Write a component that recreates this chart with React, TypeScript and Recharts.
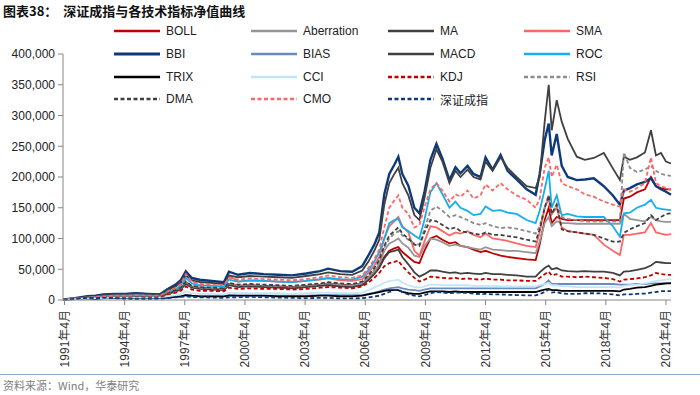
import { LineChart, Line, XAxis, YAxis } from 'recharts';

// decimal years (1991年4月 = 1991.25)
const times = [
  1991.2, 1991.6, 1992.0, 1992.4, 1992.8, 1993.2, 1993.7, 1994.3, 1994.8, 1995.4,
  1996.0, 1996.4, 1996.8, 1997.05, 1997.3, 1997.6, 1998.0, 1998.6, 1999.2, 1999.45,
  1999.9, 2000.5, 2001.2, 2001.9, 2002.6, 2003.3, 2004.0, 2004.4, 2005.0, 2005.6,
  2006.1, 2006.4, 2006.7, 2006.95, 2007.2, 2007.45, 2007.7, 2007.9, 2008.1, 2008.4,
  2008.7, 2008.95, 2009.2, 2009.5, 2009.8, 2010.1, 2010.45, 2010.75, 2011.0, 2011.35,
  2011.65, 2012.0, 2012.25, 2012.6, 2013.0, 2013.35, 2013.8, 2014.3, 2014.75, 2014.95,
  2015.2, 2015.4, 2015.55, 2015.8, 2016.05, 2016.35, 2016.8, 2017.2, 2017.65, 2018.15,
  2018.6, 2018.95, 2019.15, 2019.45, 2019.8, 2020.2, 2020.5, 2020.75, 2021.0, 2021.25, 2021.5,
];

// net values, in thousands
const boll = [
  1, 2, 3, 4, 5, 6, 6, 6, 7, 6,
  6, 11, 15, 19, 29, 22, 20, 19, 18, 26,
  23, 24, 23, 22, 21, 23, 25, 27, 25, 24,
  27, 36, 46, 56, 70, 80, 84, 86, 78, 70,
  62, 60, 80, 100, 104, 98, 92, 94, 88, 86,
  82, 78, 80, 76, 72, 70, 68, 66, 65, 90,
  130, 150, 125, 135, 132, 130, 130, 130, 130, 130,
  130, 130, 165, 168, 175, 180, 200, 185, 182, 180, 180,
];
const aberration = [
  1, 2, 3, 4, 5, 6, 6, 6, 7, 6,
  6, 10, 14, 18, 28, 21, 19, 18, 17, 25,
  22, 23, 22, 21, 20, 22, 24, 26, 24, 23,
  26, 35, 46, 58, 80, 92, 96, 100, 92, 85,
  72, 70, 88, 100, 98, 94, 88, 90, 88, 86,
  84, 82, 86, 82, 81, 80, 80, 78, 76, 95,
  125, 135, 120, 128, 125, 125, 124, 124, 124, 124,
  124, 124, 140, 132, 130, 128, 135, 130, 128, 127, 127,
];
const ma = [
  1, 2, 3, 4, 5, 5, 6, 6, 6, 6,
  5, 10, 14, 17, 26, 20, 18, 17, 16, 24,
  21, 22, 21, 20, 19, 21, 23, 24, 22, 21,
  24, 32, 42, 52, 68, 78, 80, 82, 70, 58,
  45, 38, 42, 48, 48, 46, 44, 45, 43, 44,
  43, 42, 44, 42, 42, 41, 40, 38, 38, 45,
  52, 56, 50, 52, 48, 47, 46, 47, 46, 46,
  44, 40, 46, 47, 49, 52, 56, 62, 61, 60, 60,
];
const sma = [
  1, 2, 4, 6, 7, 9, 10, 10, 11, 10,
  9, 18, 26, 33, 48, 35, 30, 28, 26, 40,
  30, 32, 31, 30, 29, 31, 33, 35, 32, 31,
  34, 44, 56, 70, 100, 120, 128, 135, 120, 110,
  80, 72, 95, 120, 118, 112, 105, 110, 108, 112,
  106, 102, 108, 100, 98, 96, 92, 88, 86, 110,
  150, 165, 140, 150, 118, 112, 110, 108, 106, 90,
  80, 73, 106, 106, 108, 110, 125, 110, 108, 106, 107,
];
const bbi = [
  1, 2, 4, 6, 7, 9, 10, 10, 11, 10,
  9, 18, 25, 32, 46, 36, 33, 31, 29, 46,
  41, 44, 42, 41, 40, 43, 47, 51, 47, 46,
  55, 72, 90, 110, 172, 205, 220, 233, 205, 186,
  150, 141, 175, 228, 254, 230, 195, 216, 206, 218,
  205, 200, 232, 212, 236, 210, 196, 180, 171, 205,
  260, 287, 235, 270, 218, 200, 195, 196, 198, 185,
  170, 155, 178, 182, 188, 192, 198, 185, 180, 176, 171,
];
const bias = [
  1, 1, 2, 2, 2, 3, 3, 3, 3, 3,
  3, 4, 5, 6, 8, 7, 6, 6, 6, 8,
  7, 7, 7, 7, 7, 7, 8, 8, 8, 8,
  8, 10, 12, 14, 17, 19, 20, 21, 19, 17,
  16, 15, 17, 19, 19, 19, 19, 19, 19, 19,
  19, 19, 19, 19, 19, 19, 19, 19, 19, 22,
  26, 32, 26, 26, 26, 26, 26, 26, 26, 26,
  26, 25, 25, 25, 26, 26, 27, 27, 27, 27, 28,
];
const macd = [
  1, 2, 3, 5, 6, 8, 9, 9, 10, 9,
  8, 16, 22, 28, 40, 32, 29, 28, 26, 40,
  37, 39, 38, 37, 36, 39, 42, 45, 42, 41,
  48, 62, 80, 98, 155, 190, 205, 215, 190, 170,
  138, 130, 165, 215, 245, 225, 190, 210, 200, 212,
  200, 196, 225, 210, 232, 215, 200, 185, 182, 200,
  290, 350, 276, 325, 290, 262, 233, 228, 231, 239,
  214, 195, 233, 228, 232, 240, 276, 235, 239, 225, 222,
];
const roc = [
  1, 2, 3, 4, 5, 6, 7, 7, 8, 7,
  6, 13, 18, 23, 36, 27, 24, 23, 22, 33,
  30, 32, 31, 30, 29, 31, 34, 36, 34, 33,
  38, 48, 62, 78, 100, 125, 130, 132, 118, 112,
  105, 100, 130, 175, 190, 172, 150, 160, 150, 145,
  138, 140, 152, 145, 146, 142, 140, 130, 125, 145,
  180, 210, 150, 170, 138, 140, 136, 135, 135, 135,
  120, 103, 141, 142, 150, 155, 163, 150, 148, 147, 146,
];
const trix = [
  1, 1, 2, 2, 2, 3, 3, 3, 3, 3,
  3, 4, 5, 6, 8, 7, 6, 6, 6, 7,
  7, 7, 7, 6, 6, 6, 7, 7, 6, 6,
  7, 9, 11, 13, 15, 16, 16, 16, 13, 11,
  10, 10, 12, 14, 14, 14, 13, 14, 13, 13,
  13, 13, 13, 13, 13, 13, 13, 13, 13, 15,
  17, 18, 16, 16, 15, 15, 15, 15, 15, 15,
  15, 14, 17, 18, 20, 21, 23, 25, 26, 27, 27,
];
const cci = [
  1, 1, 2, 2, 3, 3, 4, 4, 4, 4,
  4, 6, 8, 10, 14, 11, 10, 10, 9, 12,
  11, 11, 11, 11, 10, 11, 12, 12, 11, 11,
  12, 16, 20, 24, 28, 31, 32, 33, 28, 24,
  21, 20, 22, 25, 25, 24, 24, 24, 24, 24,
  23, 23, 23, 23, 22, 22, 22, 22, 22, 24,
  26, 28, 24, 24, 22, 22, 21, 21, 21, 21,
  21, 20, 23, 24, 25, 27, 29, 31, 32, 33, 34,
];
const kdj = [
  1, 2, 3, 3, 4, 5, 5, 5, 6, 5,
  5, 9, 12, 15, 22, 17, 15, 15, 14, 20,
  18, 19, 18, 18, 17, 18, 20, 21, 20, 19,
  22, 28, 36, 44, 55, 60, 62, 64, 55, 45,
  36, 30, 33, 38, 37, 36, 35, 36, 34, 35,
  34, 33, 35, 33, 33, 32, 32, 31, 31, 36,
  42, 46, 40, 42, 38, 38, 37, 38, 37, 36,
  34, 30, 33, 34, 35, 37, 40, 44, 42, 41, 41,
];
const rsi = [
  1, 2, 3, 4, 5, 6, 6, 6, 7, 6,
  6, 11, 15, 19, 30, 22, 20, 19, 18, 27,
  24, 25, 24, 23, 22, 24, 26, 28, 26, 25,
  28, 38, 50, 62, 85, 100, 108, 112, 105, 98,
  92, 90, 115, 145, 152, 145, 135, 138, 135, 130,
  125, 122, 125, 120, 117, 118, 116, 112, 108, 120,
  150, 170, 140, 155, 135, 132, 130, 128, 128, 128,
  128, 128, 240, 215, 208, 212, 218, 210, 205, 203, 202,
];
const dma = [
  1, 2, 3, 4, 5, 6, 7, 7, 7, 6,
  6, 12, 16, 20, 30, 23, 21, 20, 19, 28,
  25, 26, 25, 24, 23, 25, 27, 29, 27, 26,
  30, 40, 52, 65, 88, 105, 112, 118, 108, 100,
  90, 88, 110, 130, 128, 122, 115, 118, 112, 110,
  108, 106, 110, 106, 106, 104, 102, 98, 95, 115,
  150, 170, 140, 155, 115, 112, 110, 108, 106, 100,
  95, 95, 109, 115, 120, 125, 138, 130, 135, 140, 141,
];
const cmo = [
  1, 2, 3, 4, 5, 6, 7, 7, 8, 7,
  7, 14, 20, 26, 42, 30, 26, 25, 24, 36,
  33, 35, 34, 33, 32, 34, 37, 40, 37, 36,
  40, 52, 66, 82, 118, 150, 162, 170, 150, 140,
  118, 122, 150, 180, 190, 178, 160, 172, 168, 178,
  165, 170, 188, 178, 190, 180, 170, 163, 150, 165,
  215, 232, 200, 220, 190, 185, 180, 172, 168, 160,
  155, 152, 180, 176, 182, 190, 232, 190, 185, 182, 179,
];
const szIndex = [
  1, 1.5, 2.5, 3.5, 3, 3.5, 3, 2, 1.5, 1.5,
  2, 3, 4.5, 5, 6, 5, 4.5, 4, 3.5, 4.5,
  4.5, 5, 4.5, 4, 3.5, 3, 3.5, 3.5, 2.5, 2.5,
  3, 4, 5.5, 7, 10, 13, 16, 17, 13, 9,
  7, 6, 8, 11, 13, 12, 11, 12, 12, 11.5,
  10.5, 9.5, 10, 9, 9, 8.5, 8, 7.5, 7.5, 9.5,
  13, 17, 12, 13, 10.5, 10, 10, 11, 11, 10.5,
  9, 7.5, 9, 9, 10, 10.5, 12, 13, 14.5, 14.5, 14.5,
];

const yTicks = [0, 50, 100, 150, 200, 250, 300, 350, 400];
const xTicks = [1991.25, 1994.25, 1997.25, 2000.25, 2003.25, 2006.25, 2009.25, 2012.25, 2015.25, 2018.25, 2021.25];

const series = [
  { key: 'BOLL', values: boll, color: '#C00000', dash: false, width: 1.8 },
  { key: 'Aberration', values: aberration, color: '#969696', dash: false, width: 1.8 },
  { key: 'MA', values: ma, color: '#404040', dash: false, width: 1.8 },
  { key: 'SMA', values: sma, color: '#FF6666', dash: false, width: 1.8 },
  { key: 'BBI', values: bbi, color: '#0E3A7C', dash: false, width: 2.4 },
  { key: 'BIAS', values: bias, color: '#6A8BBF', dash: false, width: 1.8 },
  { key: 'MACD', values: macd, color: '#404040', dash: false, width: 1.8 },
  { key: 'ROC', values: roc, color: '#16AEEF', dash: false, width: 1.8 },
  { key: 'TRIX', values: trix, color: '#000000', dash: false, width: 1.8 },
  { key: 'CCI', values: cci, color: '#C4E5F8', dash: false, width: 1.8 },
  { key: 'KDJ', values: kdj, color: '#C00000', dash: true, width: 1.8 },
  { key: 'RSI', values: rsi, color: '#8C8C8C', dash: true, width: 1.8 },
  { key: 'DMA', values: dma, color: '#404040', dash: true, width: 1.8 },
  { key: 'CMO', values: cmo, color: '#FF6666', dash: true, width: 1.8 },
  { key: '深证成指', values: szIndex, color: '#0E3A7C', dash: true, width: 1.8 },
];

const rows = times.map((t, i) => {
  const row: Record<string, number> = { t };
  series.forEach((s) => { row[s.key] = s.values[i]; });
  return row;
});

const FONT = 'Arial, "Liberation Sans", "Noto Sans CJK SC", sans-serif';

function XTick(props: any) {
  const { x, y, payload } = props;
  const label = `${Math.floor(payload.value)}年4月`;
  return (
    <text transform={`translate(${x},${y + 3}) rotate(-90)`} textAnchor="end" dy="0.35em"
      fontSize={12} fontFamily={FONT} fill="#333">
      {label}
    </text>
  );
}

function ChartLegend() {
  const colX = [114, 251, 388, 524];
  const rowY = [31, 54, 77, 99];
  return (
    <>
      {series.map((s, i) => {
        const x = colX[i % 4];
        const y = rowY[Math.floor(i / 4)];
        return (
          <div key={s.key} style={{ position: 'absolute', left: x, top: y - 9, height: 18, display: 'flex', alignItems: 'center' }}>
            <svg width={47} height={6}>
              <line x1={0} y1={3} x2={46} y2={3} stroke={s.color} strokeWidth={s.width + 0.7}
                strokeDasharray={s.dash ? '4 2.5' : undefined} />
            </svg>
            <span style={{ marginLeft: 5, fontSize: 12, fontFamily: FONT, color: '#222', whiteSpace: 'nowrap' }}>{s.key}</span>
          </div>
        );
      })}
    </>
  );
}

export default function App() {
  return (
    <div style={{ position: 'absolute', left: 0, top: 0, width: 700, height: 395, background: '#fff', overflow: 'hidden' }}>
      <div style={{ position: 'absolute', left: 3, top: 1, fontSize: 13, fontWeight: 'bold', fontFamily: '"Noto Sans CJK SC", sans-serif', color: '#111', whiteSpace: 'pre' }}>
        图表38：  深证成指与各技术指标净值曲线
      </div>
      <LineChart width={700} height={395} data={rows} margin={{ top: 54, right: 29, bottom: 30, left: 8 }}>
        <XAxis dataKey="t" type="number" domain={[1991.175, 2021.5]} ticks={xTicks} interval={0}
          height={65} tick={<XTick />} tickSize={5} axisLine={{ stroke: '#868686' }} tickLine={{ stroke: '#868686' }} />
        <YAxis type="number" domain={[0, 400]} ticks={yTicks} width={55} tickSize={5} tickMargin={3}
          tickFormatter={(v: number) => (v * 1000).toLocaleString('en-US')}
          tick={{ fontSize: 12, fill: '#222', fontFamily: FONT }}
          axisLine={{ stroke: '#868686' }} tickLine={{ stroke: '#868686' }} />
        {series.map((s) => (
          <Line key={s.key} type="linear" dataKey={s.key} stroke={s.color} strokeWidth={s.width}
            strokeDasharray={s.dash ? '4 2.5' : undefined} dot={false} isAnimationActive={false} />
        ))}
      </LineChart>
      <ChartLegend />
      <div style={{ position: 'absolute', left: 0, top: 374, width: 700, height: 1, background: '#8EA8C6' }} />
      <div style={{ position: 'absolute', left: 3, top: 377, fontSize: 11, fontFamily: '"Noto Sans CJK SC", sans-serif', color: '#808080' }}>
        资料来源：Wind，华泰研究
      </div>
    </div>
  );
}
